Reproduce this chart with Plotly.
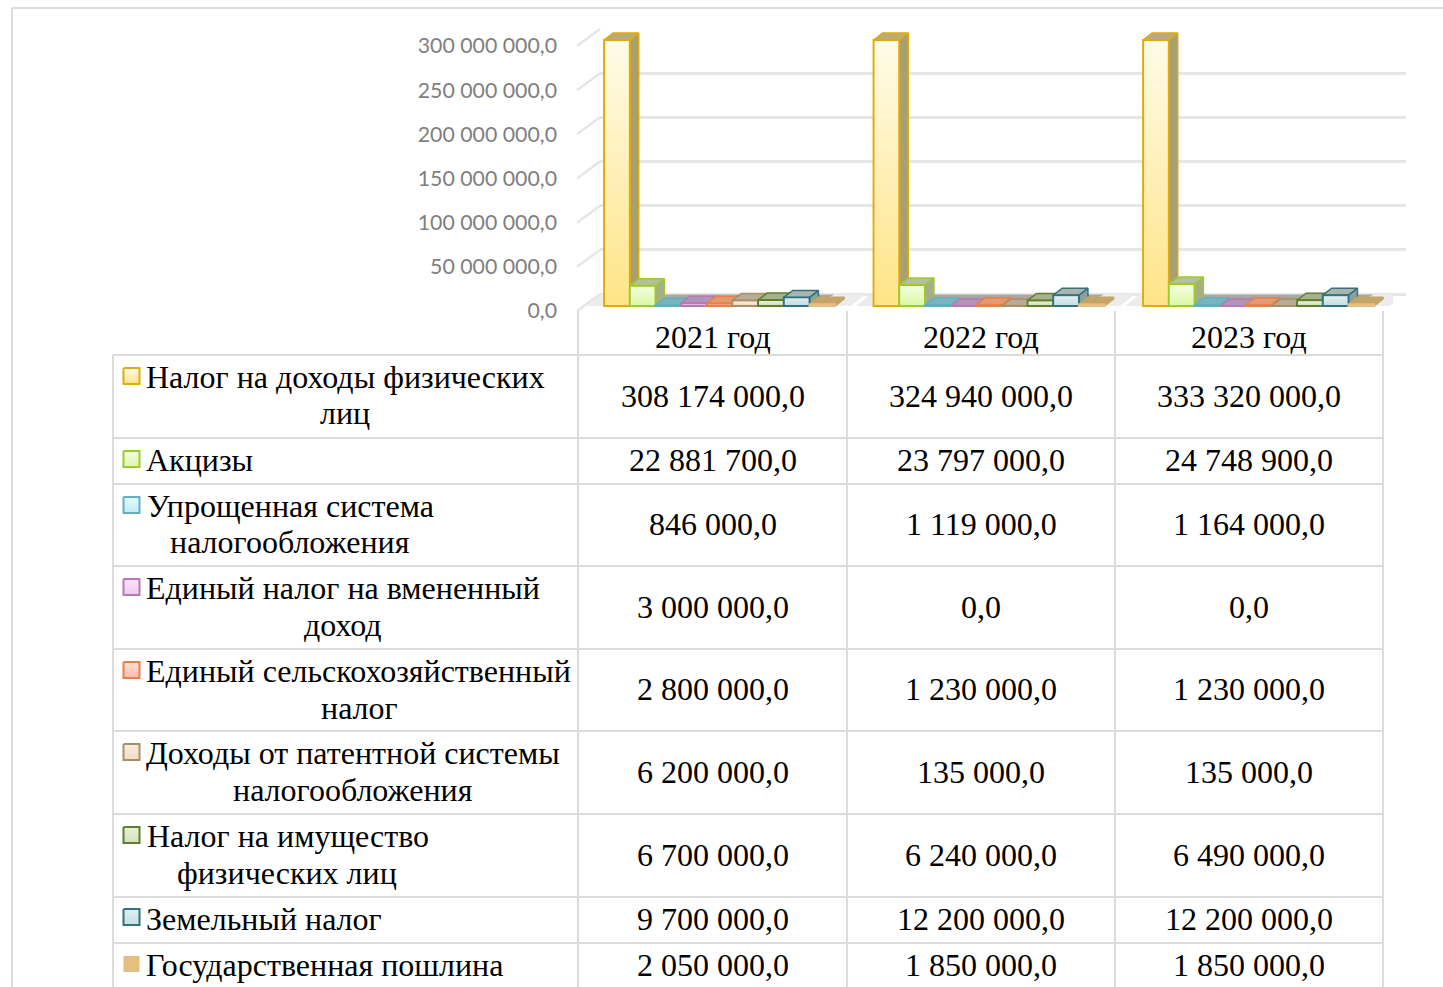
import numpy as np
import plotly.graph_objects as go

W, H = 1443, 987

# ---------- data ----------
years = ["2021 год", "2022 год", "2023 год"]
pit = [308174000, 324940000, 333320000]
excise = [22881700, 23797000, 24748900]
simplified = [846000, 1119000, 1164000]
imputed = [3000000, 0, 0]
agri = [2800000, 1230000, 1230000]
patent = [6200000, 135000, 135000]
property_tax = [6700000, 6240000, 6490000]
land = [9700000, 12200000, 12200000]
duty = [2050000, 1850000, 1850000]
y_ticks = [0, 50000000, 100000000, 150000000, 200000000, 250000000, 300000000]
y_tick_labels = ["0,0", "50 000 000,0", "100 000 000,0", "150 000 000,0",
                 "200 000 000,0", "250 000 000,0", "300 000 000,0"]
series_values = [pit, excise, simplified, imputed, agri, patent, property_tax, land, duty]
label_lines = [
    ["Налог на доходы физических", "лиц"],
    ["Акцизы"],
    ["Упрощенная система", "налогообложения"],
    ["Единый налог на вмененный", "доход"],
    ["Единый сельскохозяйственный", "налог"],
    ["Доходы от патентной системы", "налогообложения"],
    ["Налог на имущество", "физических лиц"],
    ["Земельный налог"],
    ["Государственная пошлина"],
]

# ---------- styles ----------
border = ["#e0ab0c", "#9ccb2c", "#5fb2bd", "#b57ab5", "#e87f45", "#a98f68", "#5f7f2a", "#33737f", "#e3c07f"]
grad_top = ["#fffbe8", "#f4ffe0", "#e4fafc", "#f8e4f8", "#ffe0d8", "#f8eee2", "#e8f0dc", "#e2eff1", "#e3c07f"]
grad_bot = ["#ffe488", "#dcf8a8", "#c0ecf4", "#f0c8ec", "#ffbcaa", "#f2dcc6", "#d2e2bc", "#c6dfe4", "#e3c07f"]
top_col = ["#b9ab7a", "#b6bf9b", "#78b4bf", "#b592b8", "#e49a70", "#b8ab98", "#a8b092", "#a8b6ae", "#c4a468"]
side_col = ["#a89f72", "#a5ad8b", "#6aa2ac", "#a882ac", "#c98860", "#a89a84", "#98a082", "#8ca0a0", "#b89a60"]

AXIS_MAX = y_ticks[-1]
bar_values = [np.minimum(v, AXIS_MAX) for v in series_values]

def fx(p):
    return p / W
def fy(p):
    return 1 - p / H

# px geometry of the bar plane: 0 at y=306, axis max at y=40
px_per_val = (306 - 40) / AXIS_MAX
bar_dom_top, bar_dom_bot = 20, 318
yr = [-(bar_dom_bot - 306) / px_per_val, (306 - bar_dom_top) / px_per_val]
bar_dom_x = (584.85, 1393.35)
px_per_cat = (bar_dom_x[1] - bar_dom_x[0]) / 3
bar_px = 25.67
w = bar_px / px_per_cat
dx = 9 / px_per_cat
dv = 7 / px_per_val
n = len(series_values)

fig = go.Figure()

# back wall gridlines (x/y)
fig.add_trace(go.Scatter(x=[0], y=[0], xaxis="x", yaxis="y", mode="markers",
                         marker=dict(opacity=0), hoverinfo="skip", showlegend=False))

# floor shadow under each group, on the depth axes
for colr, lo, hi, pad_l, pad_r in [("#ececec", 0.0, 1.7, 0.7, 0.6), ("#aaa7a1", 0.6, 1.65, 0.0, -0.6)]:
    sx, sy = [], []
    for c in range(len(years)):
        xl = c - n / 2 * w - pad_l * w
        xr = c + n / 2 * w + pad_r * w
        sx += [xl, xr, xr + dx * hi, xl + dx * hi, xl, None]
        sy += [dv * lo, dv * lo, dv * hi, dv * hi, dv * lo, None]
    fig.add_trace(go.Scatter(x=sx, y=sy, xaxis="x2", yaxis="y2", mode="lines", fill="toself",
                             fillcolor=colr, line=dict(width=0), hoverinfo="skip", showlegend=False))

# depth faces (x2/y2), under the front faces
for k, vals in enumerate(bar_values):
    side_x, side_y, top_x, top_y = [], [], [], []
    for c, v in enumerate(vals):
        xl = c + (k - n / 2) * w
        xr = xl + w
        side_x += [xr, xr + dx, xr + dx, xr, xr, None]
        side_y += [0, dv, v + dv, v, 0, None]
        top_x += [xl, xl + dx, xr + dx, xr, xl, None]
        top_y += [v, v + dv, v + dv, v, v, None]
    line_col = top_col[k] if k == n - 1 else border[k]
    fig.add_trace(go.Scatter(x=side_x, y=side_y, xaxis="x2", yaxis="y2", mode="lines", fill="toself",
                             fillcolor=side_col[k], line=dict(color=line_col, width=1.5),
                             hoverinfo="skip", showlegend=False))
    fig.add_trace(go.Scatter(x=top_x, y=top_y, xaxis="x2", yaxis="y2", mode="lines", fill="toself",
                             fillcolor=top_col[k], line=dict(color=line_col, width=1.5),
                             hoverinfo="skip", showlegend=False))

# front faces (x3/y3)
for k, vals in enumerate(bar_values):
    fig.add_trace(go.Bar(x=[0, 1, 2], y=vals, xaxis="x3", yaxis="y3", name=" ".join(label_lines[k]),
                         marker=dict(color=grad_bot[k], line=dict(color=border[k], width=2)),
                         showlegend=False))
# gradient sheen on the front faces
inset_x = 1.2 / px_per_cat
inset_v = 1.2 / px_per_val
for k, vals in enumerate(bar_values):
    if k == n - 1:
        continue
    xs, ys = [], []
    for c, v in enumerate(vals):
        if v * px_per_val < 3:
            continue
        xl = c + (k - n / 2) * w + inset_x
        xr = c + (k + 1 - n / 2) * w - inset_x
        xs += [xl, xr, xr, xl, xl, None]
        ys += [inset_v, inset_v, v - inset_v, v - inset_v, inset_v, None]
    if xs:
        fig.add_trace(go.Scatter(x=xs, y=ys, xaxis="x3", yaxis="y3", mode="lines", fill="toself",
                                 line=dict(width=0),
                                 fillgradient=dict(type="vertical",
                                                   colorscale=[[0, grad_bot[k]], [1, grad_top[k]]]),
                                 hoverinfo="skip", showlegend=False))

# tick label axis (x4/y4)
fig.add_trace(go.Scatter(x=[0], y=[0], xaxis="x4", yaxis="y4", mode="markers",
                         marker=dict(opacity=0), hoverinfo="skip", showlegend=False))

# legend keys in the page-coordinate overlay (x5/y5)
key_tops = [368, 451, 497, 579, 662, 744, 827, 909, 956]
for k, t in enumerate(key_tops):
    has_line = k != n - 1
    fig.add_trace(go.Scatter(x=[123.5, 139.5, 139.5, 123.5, 123.5], y=[t, t, t + 16, t + 16, t],
                             xaxis="x5", yaxis="y5", mode="lines", fill="toself",
                             line=dict(color=border[k], width=2 if has_line else 0),
                             fillgradient=dict(type="vertical",
                                               colorscale=[[0, grad_bot[k]], [1, grad_top[k]]]),
                             hoverinfo="skip", showlegend=False))

# ---------- frame, table, wall ----------
grid_c = "#dcdcdc"
shapes = []
def seg(x0, y0, x1, y1, color=grid_c, width=2, layer="above"):
    shapes.append(dict(type="line", xref="paper", yref="paper", x0=fx(x0), y0=fy(y0), x1=fx(x1), y1=fy(y1),
                       line=dict(color=color, width=width), layer=layer))

# outer frame
seg(12, 8, W, 8)
seg(12, 8, 12, H)
# table
hlines = [355, 438, 484, 566, 649, 731, 814, 897, 943]
for y in hlines:
    seg(113, y, 1383, y)
seg(113, 355, 113, H)
for x in [578, 847, 1115, 1383]:
    seg(x, 311, x, H)
# wall diagonals
for t in y_ticks:
    yb = 294 - t / AXIS_MAX * 265
    seg(577, yb + 17, 600, yb, color="#e6e6e6", width=2.5, layer="below")

# ---------- table text ----------
SERIF = "Liberation Serif"
ann = []
def txt(x, y, s, anchor="center"):
    ann.append(dict(xref="paper", yref="paper", x=fx(x), y=fy(y), text=s, showarrow=False,
                    xanchor=anchor, yanchor="middle", align=anchor, borderpad=0, borderwidth=0,
                    font=dict(family=SERIF, size=32, color="#000000")))

def fmt(v):
    return f"{v:,.1f}".replace(",", " ").replace(".", ",")

col_x = [712.5, 981, 1249]
for c, y in enumerate(years):
    txt(col_x[c], 337, y)
row_y = [396, 460, 524, 607, 689, 772, 855, 919, 965]
for k, vals in enumerate(series_values):
    for c, v in enumerate(vals):
        txt(col_x[c], row_y[k], fmt(v))
line_pos = [
    [(146, 377), (320, 413)],
    [(146, 460)],
    [(147, 506), (170, 542)],
    [(146, 588), (304, 625)],
    [(146, 671), (321, 708)],
    [(146, 753), (233, 790)],
    [(146.5, 836), (177, 873)],
    [(146, 919)],
    [(146, 965)],
]
for lines, pos in zip(label_lines, line_pos):
    for s, (x, y) in zip(lines, pos):
        txt(x, y, s, anchor="left")

fig.update_layout(
    width=W, height=H, autosize=False,
    margin=dict(l=0, r=0, t=0, b=0, pad=0, autoexpand=False),
    paper_bgcolor="#ffffff", plot_bgcolor="rgba(0,0,0,0)",
    barmode="group", bargap=1 - 9 * w, bargroupgap=0,
    showlegend=False,
    shapes=shapes, annotations=ann,
    # back wall
    xaxis=dict(domain=[fx(600), fx(1406)], range=[0, 1], visible=False),
    yaxis=dict(domain=[fy(294), fy(29)], range=[0, AXIS_MAX], tickvals=y_ticks, showticklabels=False,
               showgrid=True, gridcolor="#e6e6e6", gridwidth=3, zeroline=True, zerolinecolor="#e6e6e6",
               zerolinewidth=3, ticks="", showline=False),
    # depth faces
    xaxis2=dict(domain=[fx(bar_dom_x[0]), fx(bar_dom_x[1])], range=[-0.5, 2.5], visible=False, anchor="y2"),
    yaxis2=dict(domain=[fy(bar_dom_bot), fy(bar_dom_top)], range=yr, visible=False, anchor="x2"),
    # front faces
    xaxis3=dict(domain=[fx(bar_dom_x[0]), fx(bar_dom_x[1])], range=[-0.5, 2.5], visible=False, anchor="y3"),
    yaxis3=dict(domain=[fy(bar_dom_bot), fy(bar_dom_top)], range=yr, visible=False, anchor="x3"),
    # value axis labels
    xaxis4=dict(domain=[fx(558), fx(600)], range=[0, 1], visible=False, anchor="y4"),
    yaxis4=dict(domain=[fy(311), fy(46)], range=[0, AXIS_MAX], anchor="x4", tickmode="array",
                tickvals=y_ticks, ticktext=y_tick_labels, showgrid=False, zeroline=False, ticks="",
                showline=False, tickfont=dict(family="Lato", size=21.3, color="#7f7f7f")),
    # overlay in page coordinates for legend keys
    xaxis5=dict(domain=[0, 1], range=[0, W], visible=False, anchor="y5"),
    yaxis5=dict(domain=[0, 1], range=[H, 0], visible=False, anchor="x5"),
)

fig.write_html("out.html", config={"displayModeBar": False},
               post_script="document.body.style.margin='0';document.body.style.overflow='hidden';")
